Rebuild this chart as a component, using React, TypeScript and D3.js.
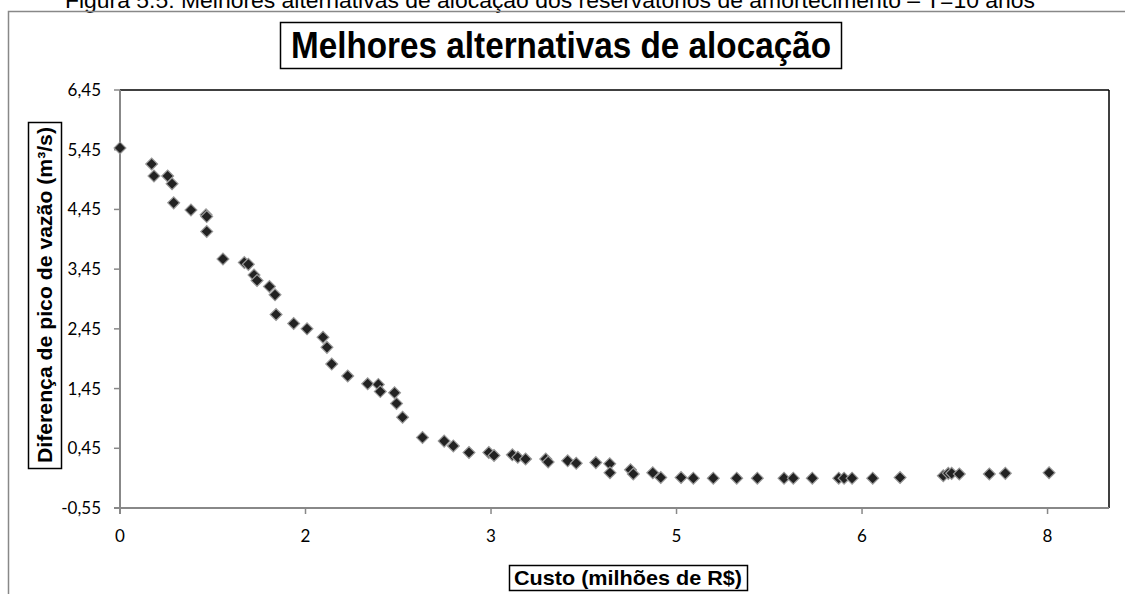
import React from "react";
import * as d3 from "d3";

const costX: number[] = [
  0.0, 0.273, 0.293, 0.411, 0.449, 0.463, 0.612, 0.742, 0.748, 0.748,
  0.888, 1.072, 1.107, 1.156, 1.182, 1.289, 1.337, 1.346, 1.498, 1.613,
  1.751, 1.785, 1.826, 1.964, 2.136, 2.228, 2.245, 2.368, 2.385, 2.437,
  2.609, 2.796, 2.875, 3.01, 3.181, 3.226, 3.384, 3.431, 3.498, 3.672,
  3.693, 3.861, 3.935, 4.104, 4.224, 4.226, 4.403, 4.427, 4.595, 4.664,
  4.839, 4.945, 5.117, 5.319, 5.497, 5.727, 5.807, 5.971, 6.199, 6.245,
  6.314, 6.492, 6.728, 7.101, 7.144, 7.173, 7.239, 7.498, 7.636, 8.013,
];
const peakDiff: number[] = [
  5.48, 5.21, 5.01, 5.01, 4.88, 4.56, 4.44, 4.36, 4.33, 4.08,
  3.62, 3.56, 3.53, 3.35, 3.26, 3.16, 3.02, 2.69, 2.54, 2.45,
  2.31, 2.14, 1.86, 1.66, 1.53, 1.52, 1.4, 1.38, 1.2, 0.97,
  0.63, 0.57, 0.49, 0.38, 0.38, 0.33, 0.34, 0.3, 0.27, 0.27,
  0.22, 0.24, 0.2, 0.21, 0.19, 0.04, 0.09, 0.02, 0.04, -0.04,
  -0.04, -0.05, -0.05, -0.05, -0.05, -0.05, -0.05, -0.05, -0.05, -0.05,
  -0.05, -0.05, -0.04, -0.01, 0.03, 0.03, 0.02, 0.02, 0.03, 0.04,
];
const yTicks: number[] = [-0.55, 0.45, 1.45, 2.45, 3.45, 4.45, 5.45, 6.45];
const xTicks: number[] = [0, 1.6, 3.2, 4.8, 6.4, 8.0];

const caption =
  "Figura 5.5: Melhores alternativas de alocação dos reservatórios de amortecimento – T=10 anos";
const chartTitle = "Melhores alternativas de alocação";
const yTitle = "Diferença de pico de vazão (m³/s)";
const xTitle = "Custo (milhões de R$)";

export default function App() {
  const W = 1125;
  const H = 594;
  const left = 120;
  const right = 1109;
  const top = 90;
  const bottom = 508;

  const x = d3.scaleLinear().domain([0, 8.53]).range([left, right]);
  const y = d3.scaleLinear().domain([-0.55, 6.45]).range([bottom, top]);
  const fmtY = (v: number) => d3.format(".2f")(v).replace(".", ",").replace("\u2212", "-");
  const fmtX = (v: number) => d3.format(".0f")(v);

  const diamond = d3.symbol().type(d3.symbolSquare).size(70)();
  const pts = costX.map((c, i) => ({ c, v: peakDiff[i] }));

  const tickFont = "Lato, 'Open Sans', sans-serif";
  const boldFont = "'Liberation Sans', Arial, sans-serif";

  return (
    <svg
      width={W}
      height={H}
      style={{ position: "absolute", left: 0, top: 0, display: "block", background: "#fff" }}
    >
      <text
        x={550}
        y={8}
        textAnchor="middle"
        fontFamily={boldFont}
        fontSize={22}
        textLength={970}
        lengthAdjust="spacingAndGlyphs"
        fill="#000"
      >
        {caption}
      </text>
      <rect x={8.5} y={11.5} width={1200} height={700} fill="none" stroke="#888" strokeWidth={1.5} />

      {/* chart title */}
      <rect x={280.5} y={22.5} width={561} height={46} fill="#fff" stroke="#000" strokeWidth={1.5} />
      <text
        x={561}
        y={58}
        textAnchor="middle"
        fontFamily={boldFont}
        fontWeight="bold"
        fontSize={36}
        textLength={540}
        lengthAdjust="spacingAndGlyphs"
      >
        {chartTitle}
      </text>

      {/* plot frame */}
      <line x1={left} x2={right} y1={top} y2={top} stroke="#000" strokeWidth={1.5} />
      <line x1={right} x2={right} y1={top} y2={bottom} stroke="#000" strokeWidth={1.5} />
      <line x1={left} x2={left} y1={top} y2={bottom + 6} stroke="#888" strokeWidth={2} />
      <line x1={left - 6} x2={right} y1={bottom} y2={bottom} stroke="#888" strokeWidth={2} />

      {yTicks.map((t) => (
        <g key={"y" + t}>
          <line x1={left - 6} x2={left} y1={y(t)} y2={y(t)} stroke="#888" strokeWidth={1.5} />
          <text
            x={left - 19}
            y={y(t)}
            dy="0.35em"
            textAnchor="end"
            fontFamily={tickFont}
            fontSize={17}
            fill="#000"
          >
            {fmtY(t)}
          </text>
        </g>
      ))}
      {xTicks.map((t) => (
        <g key={"x" + t}>
          <line x1={x(t)} x2={x(t)} y1={bottom} y2={bottom + 6} stroke="#888" strokeWidth={1.5} />
          <text
            x={x(t)}
            y={536}
            dy="0.35em"
            textAnchor="middle"
            fontFamily={tickFont}
            fontSize={17}
            fill="#000"
          >
            {fmtX(t)}
          </text>
        </g>
      ))}

      {/* y axis title */}
      <rect x={28.5} y={122.5} width={33} height={346} fill="#fff" stroke="#000" strokeWidth={1.5} />
      <text
        transform={`translate(52,295) rotate(-90)`}
        textAnchor="middle"
        fontFamily={boldFont}
        fontWeight="bold"
        fontSize={21}
        textLength={336}
        lengthAdjust="spacingAndGlyphs"
      >
        {yTitle}
      </text>

      {/* x axis title */}
      <rect x={509.5} y={565.5} width={238} height={25} fill="#fff" stroke="#000" strokeWidth={1.5} />
      <text
        x={628}
        y={585}
        textAnchor="middle"
        fontFamily={boldFont}
        fontWeight="bold"
        fontSize={21}
        textLength={228}
        lengthAdjust="spacingAndGlyphs"
      >
        {xTitle}
      </text>

      {/* markers */}
      {pts.map((p, i) => (
        <path
          key={i}
          d={diamond || ""}
          transform={`translate(${x(p.c)},${y(p.v)}) rotate(45)`}
          fill="#222"
          stroke="#999"
          strokeWidth={1.2}
        />
      ))}
    </svg>
  );
}
